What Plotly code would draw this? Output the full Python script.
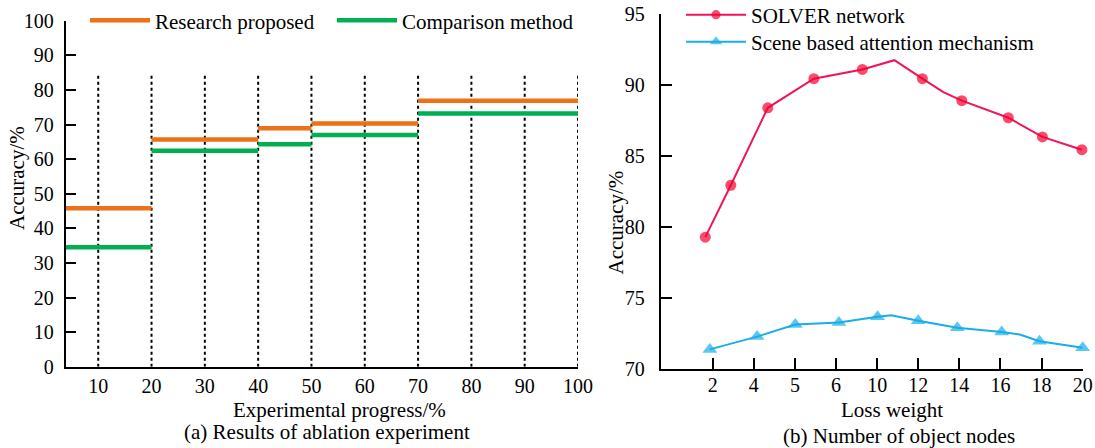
import plotly.graph_objects as go

# ---------------- data (a) ----------------
progress_edges = [0, 20, 40, 50, 70, 100]
research_proposed = [45.8, 65.7, 68.9, 70.3, 76.9]
comparison_method = [34.5, 62.4, 64.3, 67.0, 73.2]
progress_ticks = [10, 20, 30, 40, 50, 60, 70, 80, 90, 100]

# ---------------- data (b) ----------------
loss_weight_labels = ["2", "4", "5", "6", "10", "12", "14", "16", "18", "20"]
# x given in tick-index units (0 = first tick label), vertices with marker flag
solver_x = [-0.18, 0.44, 1.34, 2.46, 3.64, 4.42, 5.10, 5.61, 6.06, 7.19, 8.02, 8.98]
solver_y = [79.3, 82.95, 88.4, 90.45, 91.1, 91.75, 90.45, 89.5, 88.9, 87.7, 86.35, 85.45]
solver_marked = [1, 1, 1, 1, 1, 0, 1, 0, 1, 1, 1, 1]
scene_x = [-0.07, 1.08, 2.01, 3.07, 4.01, 4.34, 5.00, 5.95, 7.03, 7.47, 7.95, 9.00]
scene_y = [71.4, 72.3, 73.15, 73.3, 73.7, 73.8, 73.42, 72.92, 72.62, 72.45, 71.98, 71.52]
scene_marked = [1, 1, 1, 1, 1, 0, 1, 1, 1, 0, 1, 1]

FONT = "Liberation Serif"
W, H = 1095, 448
ORANGE = "#EC7117"
GREEN = "#00B050"
RED_LINE = "#F0145A"
RED_MK = "#F50030"
BLUE = "#17AEE9"


def px(x):
    return x / W


def py(y):
    return 1 - y / H


fig = go.Figure()

# dotted guide lines of panel (a)
gx, gy = [], []
guide_top = 84.3
for t in progress_ticks:
    gx += [t, t, None]
    gy += [0, guide_top, None]
fig.add_trace(go.Scatter(x=gx, y=gy, mode="lines", xaxis="x", yaxis="y",
                         line=dict(color="black", width=2, dash="dot"),
                         showlegend=False, hoverinfo="skip"))


def steps(vals):
    xs, ys = [], []
    for i, v in enumerate(vals):
        xs += [progress_edges[i], progress_edges[i + 1], None]
        ys += [v, v, None]
    return xs, ys


for name, vals, col in [("Research proposed", research_proposed, ORANGE),
                        ("Comparison method", comparison_method, GREEN)]:
    xs, ys = steps(vals)
    fig.add_trace(go.Scatter(x=xs, y=ys, mode="lines", name=name, xaxis="x", yaxis="y",
                             line=dict(color=col, width=4.5), legend="legend"))

# panel (b)
fig.add_trace(go.Scatter(
    x=solver_x, y=solver_y, mode="lines+markers", name="SOLVER network",
    xaxis="x2", yaxis="y2", legend="legend2",
    line=dict(color=RED_LINE, width=2),
    marker=dict(symbol="circle", color=RED_MK, size=[11 if m else 0 for m in solver_marked],
                line=dict(width=0)),
    cliponaxis=False))
fig.add_trace(go.Scatter(
    x=scene_x, y=scene_y, mode="lines+markers", name="Scene based attention mechanism",
    xaxis="x2", yaxis="y2", legend="legend3",
    line=dict(color=BLUE, width=2),
    marker=dict(symbol="triangle-up", color=BLUE, size=[13 if m else 0 for m in scene_marked],
                line=dict(width=0)),
    cliponaxis=False))

axis_common = dict(showline=True, linewidth=2, linecolor="black", showgrid=False,
                   zeroline=False, mirror=False, automargin=False,
                   tickfont=dict(family=FONT, size=20, color="black"))

legend_common = dict(bgcolor="rgba(0,0,0,0)", itemwidth=60,
                     xanchor="left", yanchor="middle",
                     font=dict(family=FONT, size=21, color="black"))

fig.update_layout(
    width=W, height=H,
    margin=dict(l=0, r=0, t=0, b=0, autoexpand=False),
    paper_bgcolor="white", plot_bgcolor="white",
    font=dict(family=FONT, size=21, color="black"),
    xaxis=dict(domain=[px(65.7), px(578)], range=[3.9, 100], tickvals=progress_ticks,
               ticks="", anchor="y", **axis_common),
    yaxis=dict(domain=[py(366.7), py(20.7)], range=[0, 100], dtick=10,
               ticks="inside", ticklen=10, tickwidth=1.5, tickcolor="black",
               ticklabelstandoff=6, anchor="x", **axis_common),
    xaxis2=dict(domain=[px(660.7), px(1082.7)], range=[-1.265, 9],
                tickvals=list(range(len(loss_weight_labels))), ticktext=loss_weight_labels,
                ticks="inside", ticklen=11, tickwidth=1.5, tickcolor="black",
                ticklabelstandoff=-3, anchor="y2", **axis_common),
    yaxis2=dict(domain=[py(369.3), py(14)], range=[70, 95], dtick=5,
                ticks="inside", ticklen=11, tickwidth=1.5, tickcolor="black",
                ticklabelstandoff=10, anchor="x2", **axis_common),
    legend=dict(orientation="h", x=px(85), y=py(20.7), entrywidth=172, **legend_common),
    legend2=dict(orientation="v", x=px(681), y=py(15), **legend_common),
    legend3=dict(orientation="v", x=px(681), y=py(42), **legend_common),
    showlegend=True,
)

annotations = [
    dict(text="Accuracy/%", x=px(17), y=py(178), textangle=-90),
    dict(text="Experimental progress/%", x=px(339.6), y=py(410)),
    dict(text="(a) Results of ablation experiment", x=px(326.8), y=py(431.7)),
    dict(text="Accuracy/%", x=px(615), y=py(222.5), textangle=-90),
    dict(text="Loss weight", x=px(891.8), y=py(410)),
    dict(text="(b) Number of object nodes", x=px(899.3), y=py(435.5)),
]
for a in annotations:
    fig.add_annotation(xref="paper", yref="paper", showarrow=False,
                       xanchor="center", yanchor="middle",
                       font=dict(family=FONT, size=21, color="black"), **a)

fig.write_html("out.html")
